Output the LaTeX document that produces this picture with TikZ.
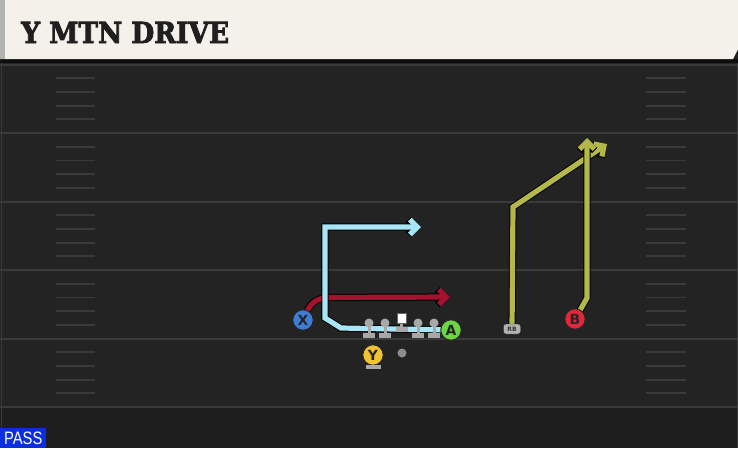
\documentclass[tikz,border=0pt]{standalone}
\usepackage{fontspec}
\setmainfont{DejaVu Serif}
\newfontfamily\titlefont[BoldFeatures={FakeBold=3}]{DejaVu Serif}
\newfontfamily\plfont{DejaVu Sans}
\newfontfamily\passfont{Liberation Sans}
\usetikzlibrary{arrows.meta}

\definecolor{field}{HTML}{232323}
\definecolor{fielddark}{HTML}{1E1E1E}
\definecolor{yardgrey}{HTML}{3A3A3A}
\definecolor{cream}{HTML}{F4F1EA}
\definecolor{routeblue}{HTML}{A9E6F5}
\definecolor{routered}{HTML}{A5122F}
\definecolor{routeolive}{HTML}{B4B84A}
\definecolor{xblue}{HTML}{3D7DD8}
\definecolor{agreen}{HTML}{6FD444}
\definecolor{bred}{HTML}{E3263A}
\definecolor{yyellow}{HTML}{F2C331}
\definecolor{linegrey}{HTML}{A8A8A8}
\definecolor{passblue}{HTML}{0B2FE0}

\pgfdeclarelayer{bg}
\pgfdeclarelayer{routes}
\pgfsetlayers{bg,routes,main}

\tikzset{
  yardline/.style={draw=yardgrey, line width=2pt},
  hashmark/.style={draw=yardgrey, line width=1.8pt},
  route/.style={line width=5.2pt, line join=miter,
    preaction={draw=black, line width=7.2pt},
    -{Straight Barb[length=7.5pt,width=15pt]}},
  player/.style={circle, draw=black!85, line width=1pt, minimum size=20.5pt,
    inner sep=0pt, font=\plfont\bfseries\fontsize{14}{14}\selectfont, text=black!85},
  lineman/.style={circle, fill=linegrey, minimum size=9pt, inner sep=0pt},
}

\begin{document}
\begin{tikzpicture}[x=1pt, y=-1pt]
  \useasboundingbox (0,0) rectangle (738,448);

  % field, yard lines and hashes
  \begin{pgfonlayer}{bg}
    \fill[field] (0,0) rectangle (738,448);
    \fill[fielddark] (0,408) rectangle (738,448);
    \fill[black!60!field] (0,59) rectangle (738,63);
    \draw[yardgrey, line width=1pt] (1,63) -- (1,448);
    \draw[yardgrey, line width=1pt] (737,63) -- (737,448);
    \foreach \y in {64.5,133,201.5,270,338.5,407}
      \draw[yardline] (0,\y) -- (738,\y);
    \foreach \k in {1,...,24}{
      \pgfmathtruncatemacro\r{mod(\k,5)}
      \ifnum\r>0
        \draw[hashmark] (56,64.5+13.7*\k) -- (95,64.5+13.7*\k);
        \draw[hashmark] (646,64.5+13.7*\k) -- (686,64.5+13.7*\k);
      \fi
    }
    % header
    \fill[cream] (0,0) -- (738,0) -- (738,49) -- (733,59) -- (0,59) -- cycle;
    \fill[black!30] (0,0) rectangle (5,59);
  \end{pgfonlayer}

  \node[anchor=base west, font=\titlefont\bfseries\fontsize{29}{29}\selectfont, text=black!88,
    xscale=0.91, inner sep=0pt] (title) at (21,43) {Y MTN DRIVE};

  % players
  \node[player, fill=xblue] (X) at (303,320) {X};
  \node[player, fill=agreen] (A) at (451,330) {A};
  \node[player, fill=bred] (B) at (575,319) {B};
  \node[player, fill=yyellow] (Y) at (373,355) {Y};
  \node[draw=black!80, fill=linegrey!90, rounded corners=2.5pt, minimum width=17pt,
    minimum height=10pt, inner sep=0pt, font=\plfont\bfseries\fontsize{6}{6}\selectfont,
    text=black!80] (RB) at (512,329) {RB};
  \fill[linegrey] (366,365) rectangle (381,369);

  % offensive line
  \foreach \x/\n in {369/lt,385/lg,418/rg,434/rt}{
    \fill[linegrey] (\x-1.5,325) rectangle (\x+1.5,334);
    \fill[linegrey] (\x-6,333) rectangle (\x+6,337.5);
    \node[lineman] (\n) at (\x,323) {};
  }
  \fill[linegrey] (400,321) rectangle (403,328);
  \fill[linegrey] (395.5,327) rectangle (407.5,331.5);
  \node[fill=white, draw=black!60, minimum size=9.5pt, inner sep=0pt] (C) at (401.5,318) {};
  \node[circle, fill=black!45, minimum size=9pt, inner sep=0pt] (ball) at (402,353) {};

  % route ends
  \coordinate (aend) at (421,227);
  \coordinate (xend) at (450,297);
  \coordinate (rbend) at (607,144);
  \coordinate (bend) at (587,138);

  % Draw the routes
  \begin{pgfonlayer}{routes}
    \draw[route, routered] (X.center) .. controls (310,302) and (316,298) .. (330,297.5) -- (xend);
    \draw[route, routeblue] (A.center) -- (341,328) -- (325,318) -- (325,227) -- (aend);
    \draw[route, routeolive] (RB.center) -- (513,207) -- (rbend);
    \draw[route, routeolive] (B.center) -- (587,298) -- (bend);
  \end{pgfonlayer}

  \node[fill=passblue, text=white, anchor=south west, minimum width=46pt, minimum height=20pt,
    inner sep=0pt, font=\passfont\fontsize{18}{18}\selectfont] (pass) at (0,448) {\scalebox{0.82}[1]{PASS}};
\end{tikzpicture}
\end{document}
